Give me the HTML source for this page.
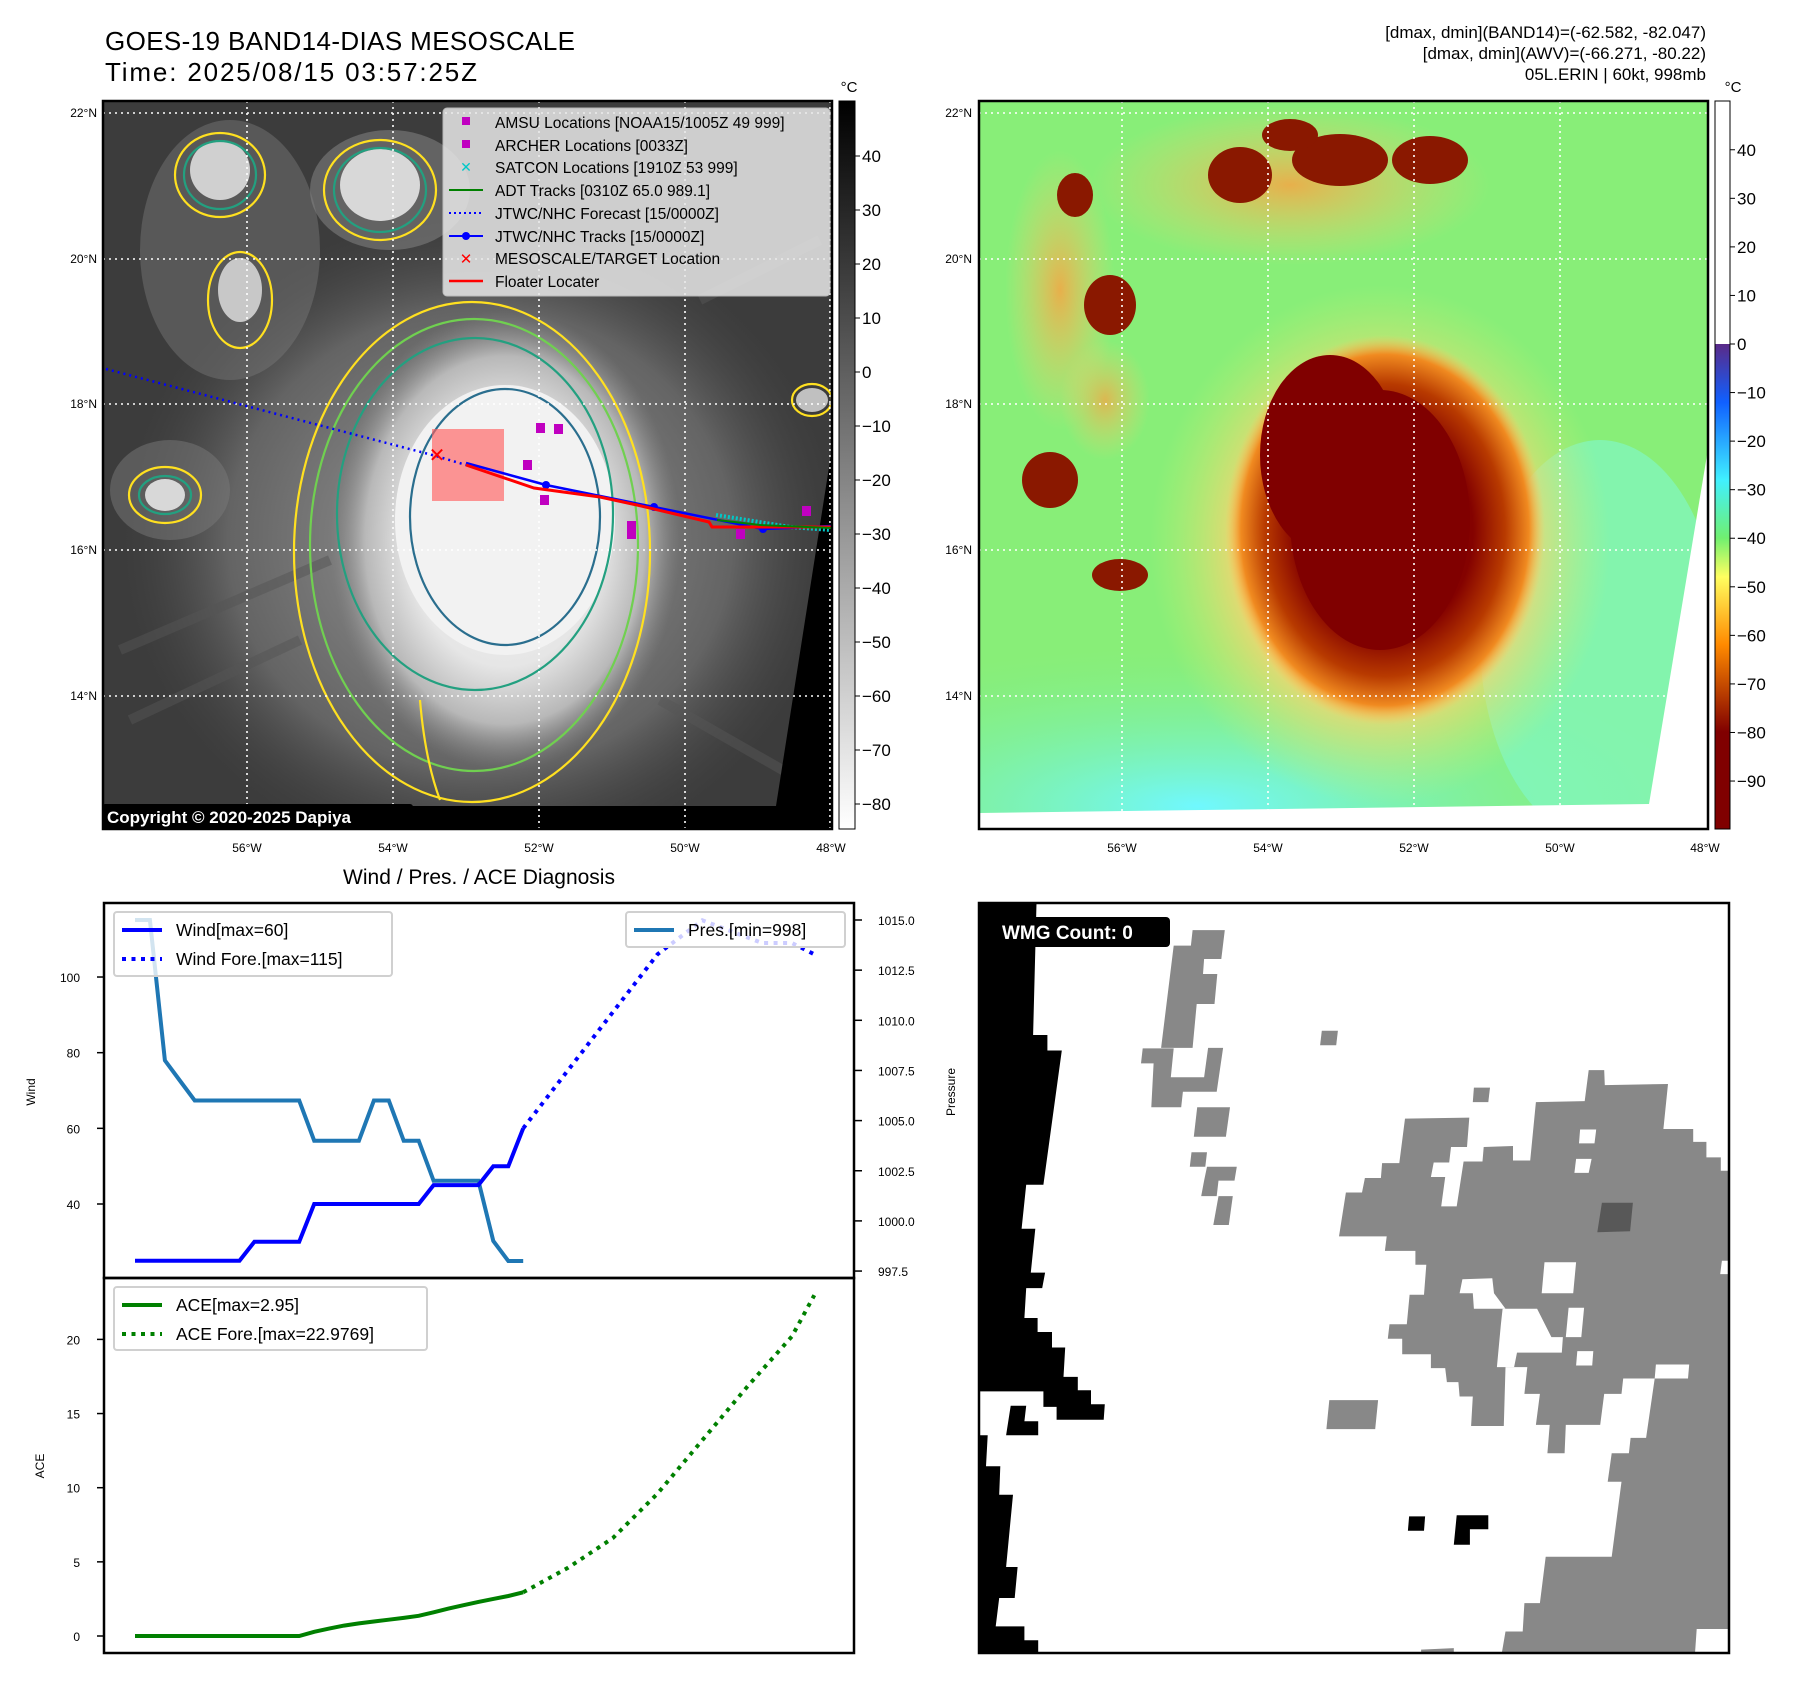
<!DOCTYPE html>
<html><head><meta charset="utf-8"><title>GOES-19 BAND14 Mesoscale</title>
<style>
html,body{margin:0;padding:0;background:#fff;}
svg{display:block;font-family:"Liberation Sans","DejaVu Sans",sans-serif;}
</style></head>
<body>
<svg id="root" width="1797" height="1690" viewBox="0 0 1797 1690" xmlns="http://www.w3.org/2000/svg">
<defs>
  <clipPath id="clipL"><rect x="103" y="101" width="729" height="728"/></clipPath>
  <clipPath id="clipR"><rect x="979" y="101" width="729" height="728"/></clipPath>
  <clipPath id="clipB"><rect x="979" y="903" width="750" height="750"/></clipPath>
  <radialGradient id="stormL" cx="0.5" cy="0.5" r="0.5">
    <stop offset="0" stop-color="#f4f4f4"/><stop offset="0.55" stop-color="#e6e6e6"/>
    <stop offset="0.8" stop-color="#b8b8b8"/><stop offset="1" stop-color="#888" stop-opacity="0"/>
  </radialGradient>
  <radialGradient id="haloL" cx="0.5" cy="0.5" r="0.5">
    <stop offset="0" stop-color="#9a9a9a"/><stop offset="0.7" stop-color="#646464"/><stop offset="1" stop-color="#444" stop-opacity="0"/>
  </radialGradient>
  <radialGradient id="coreR" cx="0.5" cy="0.5" r="0.5">
    <stop offset="0" stop-color="#800000"/><stop offset="0.55" stop-color="#840200"/>
    <stop offset="0.75" stop-color="#b83a00"/><stop offset="0.9" stop-color="#f08a20"/><stop offset="1" stop-color="#ffc860" stop-opacity="0"/>
  </radialGradient>
  <radialGradient id="haloR" cx="0.5" cy="0.5" r="0.5">
    <stop offset="0" stop-color="#ffb040"/><stop offset="0.6" stop-color="#ffd070"/><stop offset="1" stop-color="#c8f070" stop-opacity="0"/>
  </radialGradient>
  <radialGradient id="cyanR" cx="0.3" cy="0.9" r="0.7">
    <stop offset="0" stop-color="#70f8ff"/><stop offset="1" stop-color="#80f090" stop-opacity="0"/>
  </radialGradient>
  <radialGradient id="blobR" cx="0.5" cy="0.5" r="0.5">
    <stop offset="0" stop-color="#ffa040"/><stop offset="1" stop-color="#ffd070" stop-opacity="0"/>
  </radialGradient>
  <linearGradient id="cbL" x1="0" y1="0" x2="0" y2="1">
    <stop offset="0" stop-color="#000"/><stop offset="1" stop-color="#fff"/>
  </linearGradient>
  <linearGradient id="cbR" x1="0" y1="0" x2="0" y2="1">
    <stop offset="0" stop-color="#5a2a88"/><stop offset="0.12" stop-color="#1060ff"/>
    <stop offset="0.28" stop-color="#40f0ff"/><stop offset="0.4" stop-color="#70f070"/>
    <stop offset="0.48" stop-color="#ffff60"/><stop offset="0.62" stop-color="#ff8a00"/>
    <stop offset="0.8" stop-color="#800000"/><stop offset="1" stop-color="#800000"/>
  </linearGradient>
</defs>

<text x="105" y="50" font-size="26" fill="#000" textLength="470">GOES-19 BAND14-DIAS MESOSCALE</text>
<text x="105" y="81" font-size="26" fill="#000" textLength="372">Time: 2025/08/15 03:57:25Z</text>
<g font-size="17" text-anchor="end" fill="#000">
  <text x="1706" y="38">[dmax, dmin](BAND14)=(-62.582, -82.047)</text>
  <text x="1706" y="59">[dmax, dmin](AWV)=(-66.271, -80.22)</text>
  <text x="1706" y="80">05L.ERIN | 60kt, 998mb</text>
</g>

<!-- LEFT MAP -->
<g clip-path="url(#clipL)">
  <rect x="103" y="101" width="729" height="728" fill="#3c3c3c"/>
  <ellipse cx="480" cy="540" rx="360" ry="330" fill="url(#haloL)"/>
  <ellipse cx="230" cy="250" rx="90" ry="130" fill="#7a7a7a" opacity="0.45"/>
  <ellipse cx="390" cy="190" rx="80" ry="60" fill="#8a8a8a" opacity="0.5"/>
  <ellipse cx="170" cy="490" rx="60" ry="50" fill="#7a7a7a" opacity="0.5"/>
  <g stroke="#555" stroke-width="10" opacity="0.5" fill="none">
    <path d="M120 650 L330 560"/><path d="M130 720 L300 640"/><path d="M700 300 L820 240"/><path d="M660 700 L800 780"/>
  </g>
  <ellipse cx="505" cy="540" rx="175" ry="230" fill="url(#stormL)"/>
  <ellipse cx="505" cy="520" rx="110" ry="135" fill="#f2f2f2"/>
  <ellipse cx="220" cy="170" rx="30" ry="30" fill="#d0d0d0"/>
  <ellipse cx="240" cy="290" rx="22" ry="32" fill="#c8c8c8"/>
  <ellipse cx="380" cy="185" rx="40" ry="36" fill="#d8d8d8"/>
  <ellipse cx="165" cy="495" rx="20" ry="16" fill="#d8d8d8"/>
  <ellipse cx="812" cy="400" rx="16" ry="12" fill="#c0c0c0"/>
  <g fill="none" stroke-width="2.2">
    <ellipse cx="472" cy="552" rx="178" ry="250" stroke="#ffe020"/>
    <ellipse cx="474" cy="545" rx="164" ry="226" stroke="#70d050"/>
    <ellipse cx="475" cy="514" rx="138" ry="176" stroke="#23a080"/>
    <ellipse cx="505" cy="517" rx="95" ry="128" stroke="#2a6e8e"/>
    <ellipse cx="220" cy="175" rx="45" ry="42" stroke="#ffe020"/>
    <ellipse cx="220" cy="175" rx="36" ry="34" stroke="#23a080"/>
    <ellipse cx="380" cy="190" rx="56" ry="50" stroke="#ffe020"/>
    <ellipse cx="380" cy="190" rx="46" ry="42" stroke="#23a080"/>
    <ellipse cx="240" cy="300" rx="32" ry="48" stroke="#ffe020"/>
    <ellipse cx="165" cy="495" rx="36" ry="28" stroke="#ffe020"/>
    <ellipse cx="165" cy="495" rx="26" ry="19" stroke="#23a080"/>
    <ellipse cx="812" cy="400" rx="20" ry="16" stroke="#ffe020"/>
    <path d="M420 700 Q425 760 440 800" stroke="#ffe020"/>
  </g>
  <rect x="103" y="806" width="729" height="23" fill="#000"/>
  <polygon points="832,448 832,829 776,829 776,806" fill="#000"/>
  <g stroke="#fff" stroke-width="1.6" stroke-dasharray="2,4">
    <line x1="103" x2="832" y1="113" y2="113"/><line x1="103" x2="832" y1="259" y2="259"/>
    <line x1="103" x2="832" y1="404" y2="404"/><line x1="103" x2="832" y1="550" y2="550"/>
    <line x1="103" x2="832" y1="696" y2="696"/>
    <line x1="247" x2="247" y1="101" y2="829"/><line x1="393" x2="393" y1="101" y2="829"/>
    <line x1="539" x2="539" y1="101" y2="829"/><line x1="685" x2="685" y1="101" y2="829"/>
    <line x1="830" x2="830" y1="101" y2="829"/>
  </g>
  <rect x="432" y="429" width="72" height="72" fill="#ff6060" opacity="0.65"/>
  <polyline points="106,369 436,456 466,465" fill="none" stroke="#0000ff" stroke-width="2.5" stroke-dasharray="2,4"/>
  <polyline points="716,515 790,527 831,530" fill="none" stroke="#00c8c8" stroke-width="4" stroke-dasharray="2,2"/>
  <polyline points="466,463 546,485 654,507 763,529 831,526" fill="none" stroke="#0000ff" stroke-width="2.5"/>
  <g fill="#0000ff"><circle cx="546" cy="485" r="4"/><circle cx="654" cy="507" r="4"/><circle cx="763" cy="529" r="4"/></g>
  <polyline points="466,465 534,488 600,497 637,505 709,522 712,527 752,527 831,527" fill="none" stroke="#ff0000" stroke-width="3"/>
  <polyline points="717,520 760,525 831,528" fill="none" stroke="#008000" stroke-width="2"/>
  <text x="437" y="462" font-size="20" font-weight="bold" fill="#ff0000" text-anchor="middle">✕</text>
  <g fill="#c000c0">
    <rect x="536" y="423" width="9" height="10"/><rect x="554" y="424" width="9" height="10"/>
    <rect x="523" y="460" width="9" height="10"/><rect x="540" y="495" width="9" height="10"/>
    <rect x="627" y="521" width="9" height="18"/><rect x="736" y="529" width="9" height="10"/>
    <rect x="802" y="506" width="9" height="10"/>
  </g>
  <rect x="102" y="804" width="311" height="25" rx="3" fill="#000"/>
  <text x="107" y="823" font-size="17" font-weight="bold" fill="#fff">Copyright © 2020-2025 Dapiya</text>
</g>
<rect x="103" y="101" width="729" height="728" fill="none" stroke="#000" stroke-width="2.5"/>

<g>
  <rect x="443" y="108" width="387" height="188" rx="4" fill="#e8e8e8" opacity="0.85" stroke="#ccc"/>
  <g font-size="15.5" fill="#000">
    <rect x="462" y="117" width="8" height="8" fill="#c000c0"/><text x="495" y="128">AMSU Locations [NOAA15/1005Z 49 999]</text>
    <rect x="462" y="140" width="8" height="8" fill="#c000c0"/><text x="495" y="151">ARCHER Locations [0033Z]</text>
    <text x="466" y="172" fill="#00c8c8" font-size="14" text-anchor="middle">✕</text><text x="495" y="173">SATCON Locations [1910Z 53 999]</text>
    <line x1="449" x2="483" y1="190" y2="190" stroke="#008000" stroke-width="2"/><text x="495" y="196">ADT Tracks [0310Z 65.0 989.1]</text>
    <line x1="449" x2="483" y1="213" y2="213" stroke="#0000ff" stroke-width="2" stroke-dasharray="2,3"/><text x="495" y="219">JTWC/NHC Forecast [15/0000Z]</text>
    <line x1="449" x2="483" y1="236" y2="236" stroke="#0000ff" stroke-width="2"/><circle cx="466" cy="236" r="4" fill="#0000ff"/><text x="495" y="242">JTWC/NHC Tracks [15/0000Z]</text>
    <text x="466" y="264" fill="#ff0000" font-size="15" font-weight="bold" text-anchor="middle">✕</text><text x="495" y="264">MESOSCALE/TARGET Location</text>
    <line x1="449" x2="483" y1="281" y2="281" stroke="#ff0000" stroke-width="2.5"/><text x="495" y="287">Floater Locater</text>
  </g>
</g>

<g font-size="12" fill="#000">
  <g text-anchor="end"><text x="97" y="117">22°N</text><text x="97" y="263">20°N</text><text x="97" y="408">18°N</text><text x="97" y="554">16°N</text><text x="97" y="700">14°N</text></g>
  <g text-anchor="middle"><text x="247" y="852">56°W</text><text x="393" y="852">54°W</text><text x="539" y="852">52°W</text><text x="685" y="852">50°W</text><text x="831" y="852">48°W</text></g>
</g>
<g>
  <rect x="839" y="101" width="16" height="728" fill="url(#cbL)" stroke="#000" stroke-width="1"/>
  <text x="849" y="92" font-size="15" text-anchor="middle">°C</text>
  <g font-size="17" fill="#000" id="cbLlabels"></g>
</g>

<!-- RIGHT MAP -->
<g clip-path="url(#clipR)">
  <rect x="979" y="101" width="729" height="728" fill="#88ee78"/>
  <rect x="979" y="600" width="729" height="229" fill="url(#cyanR)"/>
  <ellipse cx="1600" cy="640" rx="120" ry="200" fill="#80f8d0" opacity="0.6"/>
  <ellipse cx="1290" cy="185" rx="200" ry="80" fill="url(#blobR)" opacity="0.8"/>
  <ellipse cx="1060" cy="290" rx="55" ry="140" fill="url(#blobR)" opacity="0.8"/>
  <ellipse cx="1105" cy="400" rx="45" ry="60" fill="url(#blobR)" opacity="0.7"/>
  <ellipse cx="1380" cy="545" rx="230" ry="260" fill="url(#haloR)" opacity="0.9"/>
  <ellipse cx="1385" cy="530" rx="160" ry="195" fill="url(#coreR)"/>
  <ellipse cx="1380" cy="520" rx="90" ry="130" fill="#800000"/>
  <ellipse cx="1330" cy="455" rx="70" ry="100" fill="#800000"/>
  <g fill="#8a1800">
    <ellipse cx="1240" cy="175" rx="32" ry="28"/><ellipse cx="1340" cy="160" rx="48" ry="26"/>
    <ellipse cx="1430" cy="160" rx="38" ry="24"/><ellipse cx="1290" cy="135" rx="28" ry="16"/>
    <ellipse cx="1110" cy="305" rx="26" ry="30"/><ellipse cx="1075" cy="195" rx="18" ry="22"/>
    <ellipse cx="1120" cy="575" rx="28" ry="16"/><ellipse cx="1050" cy="480" rx="28" ry="28"/>
  </g>
  <polygon points="979,813 1649,804 1708,449 1708,829 979,829" fill="#fff"/>
  <g stroke="#fff" stroke-width="1.6" stroke-dasharray="2,4">
    <line x1="979" x2="1708" y1="113" y2="113"/><line x1="979" x2="1708" y1="259" y2="259"/>
    <line x1="979" x2="1708" y1="404" y2="404"/><line x1="979" x2="1708" y1="550" y2="550"/>
    <line x1="979" x2="1708" y1="696" y2="696"/>
    <line x1="1122" x2="1122" y1="101" y2="829"/><line x1="1268" x2="1268" y1="101" y2="829"/>
    <line x1="1414" x2="1414" y1="101" y2="829"/><line x1="1560" x2="1560" y1="101" y2="829"/>
  </g>
</g>
<rect x="979" y="101" width="729" height="728" fill="none" stroke="#000" stroke-width="2.5"/>
<g font-size="12" fill="#000">
  <g text-anchor="end"><text x="972" y="117">22°N</text><text x="972" y="263">20°N</text><text x="972" y="408">18°N</text><text x="972" y="554">16°N</text><text x="972" y="700">14°N</text></g>
  <g text-anchor="middle"><text x="1122" y="852">56°W</text><text x="1268" y="852">54°W</text><text x="1414" y="852">52°W</text><text x="1560" y="852">50°W</text><text x="1705" y="852">48°W</text></g>
</g>
<g>
  <rect x="1715" y="101" width="15" height="243" fill="#fff"/>
  <rect x="1715" y="344" width="15" height="485" fill="url(#cbR)"/>
  <rect x="1715" y="101" width="15" height="728" fill="none" stroke="#000" stroke-width="1"/>
  <text x="1733" y="92" font-size="15" text-anchor="middle">°C</text>
  <g font-size="17" fill="#000" id="cbRlabels"></g>
</g>

<text x="479" y="884" font-size="21" text-anchor="middle">Wind / Pres. / ACE Diagnosis</text>
<g id="diag"></g>

<g id="wmg" clip-path="url(#clipB)"></g>
<rect x="979" y="903" width="750" height="750" fill="none" stroke="#000" stroke-width="2.5"/>
<rect x="995" y="917" width="175" height="30" rx="4" fill="#000"/>
<text x="1002" y="939" font-size="19" font-weight="bold" fill="#fff">WMG Count: 0</text>
</svg>

<script>
const obsSteps = [0,1,2,3,4,5,6,7,8,9,10,11,12,13,14,15,16,17,18,19,20,21,22,23,24,25,26];
const windObs = [25,25,25,25,25,25,25,25,30,30,30,30,40,40,40,40,40,40,40,40,45,45,45,45,50,50,60];
const presObs = [1015,1015,1008,1007,1006,1006,1006,1006,1006,1006,1006,1006,1004,1004,1004,1004,1006,1006,1004,1004,1002,1002,1002,1002,999,998,998];
const aceObs = [0,0,0,0,0,0,0,0,0,0,0,0,0.28,0.5,0.7,0.85,0.98,1.1,1.22,1.36,1.6,1.85,2.08,2.3,2.5,2.7,2.95];
const windForeSteps = [26,35,38,42,44,45.5];
const windFore = [60,106,115,109,109,106];
const aceForeSteps = [26,29,32,35,38,41,44,45.5];
const aceFore = [2.95,4.6,6.6,9.6,13.2,16.8,20.2,22.98];
const windTicks = [40,60,80,100];
const presTicks = [997.5,1000.0,1002.5,1005.0,1007.5,1010.0,1012.5,1015.0];
const aceTicks = [0,5,10,15,20];
const cbLeftTicks = [40,30,20,10,0,-10,-20,-30,-40,-50,-60,-70,-80];
const cbRightTicks = [40,30,20,10,0,-10,-20,-30,-40,-50,-60,-70,-80,-90];

const NS = 'http://www.w3.org/2000/svg';
function mk(tag, attrs, parent){const e=document.createElementNS(NS,tag);for(const k in attrs)e.setAttribute(k,attrs[k]);parent.appendChild(e);return e;}

const X = t => 135 + t*14.93;
const yWind = v => 1204 - (v-40)*3.783;
const yPres = p => 920 + (1015-p)*20.06;
const yAce = v => 1636 - v*14.83;
const cbLy = v => 372 - v*5.4;
const cbRy = v => 344 - v*4.856;

const gL = document.getElementById('cbLlabels');
cbLeftTicks.forEach(v=>{
  const y=cbLy(v);
  const l=mk('line',{x1:855,x2:860,y1:y,y2:y,stroke:'#000'},gL);
  
  
  const t=mk('text',{x:862,y:y+6},gL); t.textContent=(v<0?'−':'')+Math.abs(v);
  
  
});
const gR = document.getElementById('cbRlabels');
cbRightTicks.forEach(v=>{
  const y=cbRy(v);
  const l=mk('line',{x1:1730,x2:1735,y1:y,y2:y,stroke:'#000'},gR);
  
  
  const t=mk('text',{x:1737,y:y+6},gR); t.textContent=(v<0?'−':'')+Math.abs(v);
  
  
});

const g = document.getElementById('diag');
mk('rect',{x:104,y:903,width:750,height:750,fill:'#fff'},g);
function pts(ts,vs,fy){return ts.map((t,i)=>X(t).toFixed(1)+','+fy(vs[i]).toFixed(1)).join(' ');}

const pl1=mk('polyline',{points:pts(obsSteps,presObs,yPres),fill:'none',stroke:'#1f77b4','stroke-width':4},g);


const pl2=mk('polyline',{points:pts(obsSteps,windObs,yWind),fill:'none',stroke:'#0000ff','stroke-width':4},g);


const pl3=mk('polyline',{points:pts(windForeSteps,windFore,yWind),fill:'none',stroke:'#0000ff','stroke-width':4,'stroke-dasharray':'4,5.5'},g);


const pl4=mk('polyline',{points:pts(obsSteps,aceObs,yAce),fill:'none',stroke:'#008000','stroke-width':4},g);


const pl5=mk('polyline',{points:pts(aceForeSteps,aceFore,yAce),fill:'none',stroke:'#008000','stroke-width':4,'stroke-dasharray':'4,5.5'},g);



mk('rect',{x:104,y:903,width:750,height:375,fill:'none',stroke:'#000','stroke-width':2.5},g);
mk('rect',{x:104,y:1278,width:750,height:375,fill:'none',stroke:'#000','stroke-width':2.5},g);

windTicks.forEach(v=>{const y=yWind(v);
  mk('line',{x1:97,x2:104,y1:y,y2:y,stroke:'#000','stroke-width':1.5},g);
  const t=mk('text',{x:80,y:y+5,'font-size':12,'text-anchor':'end'},g); t.textContent=v;
  
  });
presTicks.forEach(v=>{const y=yPres(v);
  mk('line',{x1:854,x2:862,y1:y,y2:y,stroke:'#000','stroke-width':1.5},g);
  const t=mk('text',{x:878,y:y+5,'font-size':12},g); t.textContent=v.toFixed(1);
  
  });
aceTicks.forEach(v=>{const y=yAce(v);
  mk('line',{x1:97,x2:104,y1:y,y2:y,stroke:'#000','stroke-width':1.5},g);
  const t=mk('text',{x:80,y:y+5,'font-size':12,'text-anchor':'end'},g); t.textContent=v;
  
  });

const yl1=mk('text',{x:0,y:0,'font-size':12,'text-anchor':'middle',transform:'translate(35,1092) rotate(-90)'},g); yl1.textContent='Wind';


const yl2=mk('text',{x:0,y:0,'font-size':12,'text-anchor':'middle',transform:'translate(44,1466) rotate(-90)'},g); yl2.textContent='ACE';


const yl3=mk('text',{x:0,y:0,'font-size':12,'text-anchor':'middle',transform:'translate(955,1092) rotate(-90)'},g); yl3.textContent='Pressure';



function legend(x,y,w,h,items,name){
  const lg=mk('g',{},g);
  
  
  mk('rect',{x:x,y:y,width:w,height:h,rx:3,fill:'#fff','fill-opacity':0.8,stroke:'#d0d0d0','stroke-width':2},lg);
  items.forEach((it,i)=>{const cy=y+18+i*29;
    const a={x1:x+8,x2:x+48,y1:cy,y2:cy,stroke:it.c,'stroke-width':4};
    if(it.d)a['stroke-dasharray']='4,5.5';
    mk('line',a,lg);
    const t=mk('text',{x:x+62,y:cy+6,'font-size':17.5},lg); t.textContent=it.t;});
}
legend(114,912,278,64,[{c:'#0000ff',t:'Wind[max=60]'},{c:'#0000ff',t:'Wind Fore.[max=115]',d:1}],'wind-legend');
legend(626,912,219,35,[{c:'#1f77b4',t:'Pres.[min=998]'}],'pressure-legend');
legend(114,1287,313,63,[{c:'#008000',t:'ACE[max=2.95]'},{c:'#008000',t:'ACE Fore.[max=22.9769]',d:1}],'ace-legend');

const w = document.getElementById('wmg');
const zx = x => 897 + x/1.742, zy = y => 880 + y/1.936;
function poly(arr, fill, name){
  const p=arr.map(q=>zx(q[0]).toFixed(1)+','+zy(q[1]).toFixed(1)).join(' ');
  const e=mk('polygon',{points:p,fill:fill},w);
  
  
}
mk('rect',{x:979,y:903,width:750,height:750,fill:'#fff'},w);
poly([[143,45],[243,45],[237,300],[262,300],[262,330],[287,330],[255,590],[225,590],[217,675],[241,675],[233,760],[258,760],[253,790],[225,790],[222,848],[245,848],[245,875],[270,875],[270,905],[293,905],[290,962],[315,962],[315,988],[338,988],[338,1015],[362,1015],[360,1045],[278,1045],[278,1020],[255,1020],[255,990],[143,990]],'#000','wmg-black-edge');
poly([[143,1075],[158,1075],[155,1135],[180,1135],[178,1190],[202,1190],[190,1330],[210,1330],[205,1390],[178,1390],[172,1445],[222,1445],[222,1472],[246,1472],[246,1497],[143,1497]],'#000','wmg-black-edge-lower');
poly([[198,1018],[225,1018],[222,1048],[246,1048],[246,1075],[190,1075]],'#000','wmg-black-cell');
poly([[892,1232],[920,1232],[918,1260],[890,1260]],'#000','wmg-black-cell');
poly([[975,1230],[1030,1230],[1030,1257],[998,1257],[998,1287],[970,1287]],'#000','wmg-black-cell');
const G='#888';
poly([[515,97],[571,97],[565,153],[535,153],[533,182],[558,182],[553,240],[522,240],[515,325],[460,325],[482,127],[512,127]],G,'wmg-gray-region');
poly([[428,326],[482,326],[477,382],[535,382],[542,325],[568,325],[557,410],[498,410],[495,440],[443,440],[447,355],[425,355]],G,'wmg-gray-region');
poly([[523,440],[580,440],[573,497],[517,497]],G,'wmg-gray-region');
poly([[513,527],[540,527],[537,555],[592,555],[588,582],[560,582],[557,612],[530,612],[535,582],[540,555],[510,555]],G,'wmg-gray-region');
poly([[560,612],[585,612],[578,668],[551,668]],G,'wmg-gray-region');
poly([[740,292],[768,292],[765,320],[737,320]],G,'wmg-gray-region');
poly([[1005,402],[1033,402],[1030,430],[1003,430]],G,'wmg-gray-region');
poly([[753,1007],[838,1007],[833,1063],[748,1063]],G,'wmg-gray-region');
poly([[913,1490],[970,1487],[970,1500],[913,1500]],G,'wmg-gray-region');
poly([[885,462],[997,460],[993,517],[965,517],[962,547],[935,547],[930,575],[955,575],[948,632],[975,632],[987,545],[1020,545],[1022,517],[1073,515],[1073,543],[1103,543],[1113,430],[1198,428],[1205,368],[1232,368],[1233,397],[1343,395],[1335,482],[1387,482],[1387,507],[1410,507],[1410,537],[1435,537],[1435,563],[1452,563],[1452,1450],[1393,1450],[1390,1500],[1053,1500],[1060,1455],[1090,1455],[1093,1400],[1120,1400],[1130,1310],[1245,1310],[1262,1165],[1238,1165],[1245,1110],[1275,1110],[1278,1080],[1305,1080],[1320,965],[1265,965],[1262,995],[1232,995],[1225,1055],[1165,1055],[1163,1110],[1133,1110],[1137,1055],[1113,1055],[1120,995],[1093,995],[1098,943],[1060,943],[1057,1057],[1000,1057],[1003,1000],[980,1000],[978,972],[958,972],[955,945],[930,945],[930,918],[880,918],[880,888],[855,888],[858,860],[888,860],[893,803],[918,803],[922,745],[903,745],[903,718],[850,718],[853,690],[770,690],[782,605],[810,605],[815,577],[843,577],[845,548],[875,548]],G,'wmg-gray-main');
const Wt='#fff';
poly([[1190,483],[1218,483],[1215,510],[1188,510]],Wt,'wmg-hole');
poly([[1183,540],[1210,540],[1205,567],[1180,567]],Wt,'wmg-hole');
poly([[1128,740],[1183,740],[1178,800],[1123,800]],Wt,'wmg-hole');
poly([[985,773],[1037,771],[1040,800],[1060,830],[1005,830],[1003,800],[980,800]],Wt,'wmg-hole');
poly([[1055,830],[1115,830],[1140,885],[1160,885],[1158,915],[1080,915],[1075,943],[1045,943],[1052,860]],Wt,'wmg-hole');
poly([[1170,828],[1197,828],[1192,885],[1165,885]],Wt,'wmg-hole');
poly([[1185,912],[1213,912],[1211,940],[1183,940]],Wt,'wmg-hole');
poly([[1322,938],[1380,938],[1378,965],[1320,965]],Wt,'wmg-hole');
poly([[1437,737],[1452,737],[1452,763],[1434,763]],Wt,'wmg-hole');
poly([[1228,625],[1282,625],[1277,680],[1220,682]],'#585858','wmg-dark-cell');
</script>
</body></html>
